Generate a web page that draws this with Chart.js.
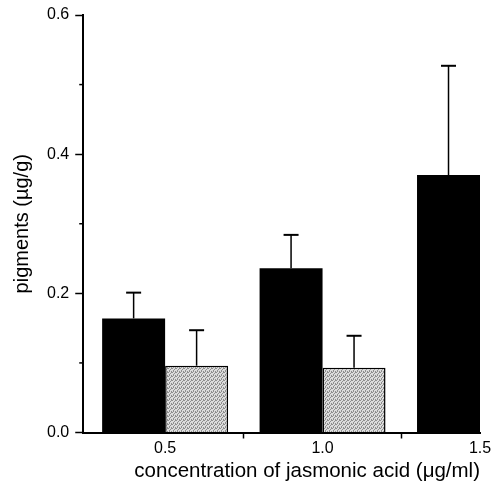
<!DOCTYPE html>
<html>
<head>
<meta charset="utf-8">
<script src="https://cdn.jsdelivr.net/npm/chart.js@4.4.0/dist/chart.umd.min.js"></script>
<style>
html, body { margin: 0; padding: 0; background: #fff; }
</style>
</head>
<body>
<canvas id="myChart" width="495" height="484"></canvas>
<script>
// values
const concentrations = [0.5, 1.0, 1.5]
const blackValues = [0.164, 0.236, 0.370]
const blackErrors = [0.037, 0.048, 0.157]
const grayValues = [0.096, 0.093, null]
const grayErrors = [0.051, 0.046, null]
const xTicks = [0.5, 0.75, 1.0, 1.25, 1.5]
const xTickLabels = ["0.5", "", "1.0", "", "1.5"]

const FONT = "'Liberation Sans', Arial, sans-serif"

function stipple() {
	const c = document.createElement("canvas")
	c.width = 4
	c.height = 4
	const g = c.getContext("2d")
	g.fillStyle = "#dcdcdc"
	g.fillRect(0, 0, 4, 4)
	g.fillStyle = "#8e8e8e";
	[[0, 0], [2, 1], [1, 2], [3, 3], [3, 0], [1, 3]].forEach(p => g.fillRect(p[0], p[1], 1, 1))
	return g.createPattern(c, "repeat")
}

const errorBars = {
	id: "errorBars",
	afterDatasetsDraw(chart) {
		const ctx = chart.ctx
		const yScale = chart.scales.y
		chart.data.datasets.forEach((ds, di) => {
			const meta = chart.getDatasetMeta(di)
			meta.data.forEach((bar, i) => {
				const err = ds.errors[i]
				const val = ds.data[i].y
				if (err == null || val == null) return
				const top = yScale.getPixelForValue(val + err)
				ctx.save()
				ctx.strokeStyle = "#000"
				ctx.lineWidth = 1.5
				ctx.beginPath()
				ctx.moveTo(bar.x, bar.y)
				ctx.lineTo(bar.x, top)
				ctx.stroke()
				ctx.lineWidth = 2
				ctx.beginPath()
				ctx.moveTo(bar.x - 7.5, top)
				ctx.lineTo(bar.x + 7.5, top)
				ctx.stroke()
				ctx.restore()
			})
		})
	}
}

// short minor ticks on the y axis
const minorTicks = {
	id: "minorTicks",
	afterDraw(chart) {
		const ctx = chart.ctx
		const y = chart.scales.y
		const left = chart.chartArea.left
		ctx.save()
		ctx.strokeStyle = "#000"
		ctx.lineWidth = 1.5
		y.ticks.forEach((t, i) => {
			if (i % 2 === 0) return
			const py = y.getPixelForValue(t.value)
			ctx.beginPath()
			ctx.moveTo(left - 4, py)
			ctx.lineTo(left, py)
			ctx.stroke()
		})
		ctx.restore()
	}
}

const blackData = concentrations.map((c, i) => ({x: c, y: blackValues[i]}))
const grayData = concentrations.map((c, i) => ({x: c, y: grayValues[i]}))

const chart = new Chart("myChart", {
	type: "bar",
	data: {
		datasets: [
			{
				label: "black",
				data: blackData,
				errors: blackErrors,
				backgroundColor: "#000",
				borderColor: "#000",
				borderWidth: 0
			},
			{
				label: "gray",
				data: grayData,
				errors: grayErrors,
				backgroundColor: stipple(),
				borderColor: "#000",
				borderWidth: 1.5
			}
		]
	},
	options: {
		responsive: false,
		animation: false,
		devicePixelRatio: 1,
		categoryPercentage: 1.6,
		barPercentage: 1,
		layout: {padding: {left: 12, right: 15, top: 15, bottom: 2}},
		plugins: {
			legend: {display: false},
			tooltip: {enabled: false}
		},
		scales: {
			x: {
				type: "linear",
				offset: false,
				min: 0.24,
				max: 1.5,
				afterBuildTicks: scale => { scale.ticks = xTicks.map(v => ({value: v})) },
				ticks: {
					callback: (v, i) => xTickLabels[i],
					color: "#000",
					font: {family: FONT, size: 16, lineHeight: 1},
					padding: 2,
					maxRotation: 0,
					autoSkip: false
				},
				grid: {
					offset: false,
					drawOnChartArea: false,
					tickLength: 6,
					tickWidth: 1.5,
					tickColor: c => xTickLabels[c.index] ? "transparent" : "#000"
				},
				border: {color: "#000", width: 2},
				title: {
					display: true,
					text: "concentration of jasmonic acid (\u03bcg/ml)",
					color: "#000",
					align: "end",
					font: {family: FONT, size: 20.5, lineHeight: 1},
					padding: {top: 3, bottom: 0}
				}
			},
			y: {
				min: 0,
				max: 0.6,
				ticks: {
					stepSize: 0.1,
					callback: v => Math.round(v * 10) % 2 === 0 ? v.toFixed(1) : "",
					color: "#000",
					font: {family: FONT, size: 16, lineHeight: 1},
					padding: 6
				},
				grid: {
					drawOnChartArea: false,
					tickLength: 8,
					tickWidth: 1.5,
					tickColor: c => c.index % 2 === 0 ? "#000" : "transparent"
				},
				border: {color: "#000", width: 2},
				title: {
					display: true,
					text: "pigments (\u00b5g/g)",
					color: "#000",
					font: {family: FONT, size: 20, lineHeight: 1},
					padding: {top: 0, bottom: 9}
				}
			}
		}
	},
	plugins: [errorBars, minorTicks]
})
</script>
</body>
</html>
